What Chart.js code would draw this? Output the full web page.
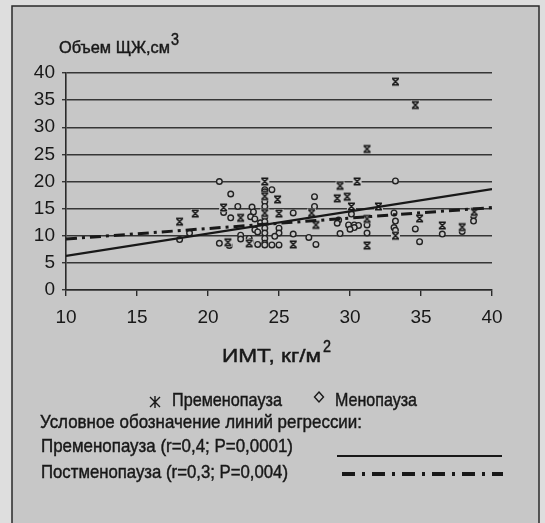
<!DOCTYPE html>
<html>
<head>
<meta charset="utf-8">
<script src="https://cdn.jsdelivr.net/npm/chart.js@4.4.0/dist/chart.umd.min.js"></script>
<style>
  html, body { margin: 0; padding: 0; background: #dcdcdc; }
  canvas { display: block; }
</style>
</head>
<body>
<canvas id="chart" width="545" height="523"></canvas>
<script>
const FONT = "'Liberation Sans', Arial, sans-serif";
const BG = '#c7c7c7';
const INK = '#181818';

// Пременопауза (звёздочки)
const preX = [18.0, 19.1, 21.1, 22.3, 21.4, 22.9, 24.0, 24.0, 24.0, 24.9, 25.0, 26.0,
              29.3, 29.8, 29.1, 30.5, 31.2, 33.2, 34.6, 27.3, 27.6, 30.1, 31.2, 31.2,
              32.0, 33.2, 34.9, 36.5, 37.9, 38.75];
const preY = [12.6, 14.1, 15.2, 13.3, 8.8, 8.6, 20.0, 17.3, 14.2, 16.7, 14.1, 8.4,
              19.2, 17.2, 16.9, 20.0, 26.0, 38.4, 34.1, 14.2, 12.0, 15.4, 13.1, 8.2,
              15.4, 10.0, 13.2, 11.9, 11.6, 14.4];

// Менопауза (ромбы)
const menoX = [18.0, 18.7, 18.0, 19.1, 20.8, 21.6, 21.1, 22.1, 21.6, 23.1, 23.2, 23.0,
               23.3, 20.8, 21.5, 22.3, 22.3, 22.9, 23.0, 23.3, 23.7, 23.5, 23.5,
               24.0, 24.0, 24.0, 24.0, 24.0, 24.0, 24.0, 24.0, 24.0, 24.0, 24.0, 24.0, 24.0,
               24.5, 24.5, 25.0, 25.0, 25.0, 24.7, 25.0, 26.0, 26.0, 27.1, 27.6, 27.5, 27.5,
               27.3, 29.1, 29.2, 29.1, 29.3, 30.1, 30.1, 29.9, 30.3, 30.6, 30.3, 30.0,
               31.2, 31.2, 32.0, 33.2, 33.1, 33.2, 33.1, 33.2, 34.9, 34.6, 34.9, 36.5,
               37.9, 38.7, 38.7];
const menoY = [9.3, 10.5, 12.6, 14.1, 20.0, 17.7, 14.3, 15.4, 13.3, 15.3, 14.4, 13.5,
               13.1, 8.6, 8.2, 10.1, 9.4, 9.5, 8.9, 11.1, 12.4, 10.7, 8.4,
               18.5, 18.1, 17.7, 16.3, 15.4, 14.4, 13.5, 12.6, 11.4, 10.5, 9.5, 8.6, 8.3,
               18.5, 8.3, 11.4, 10.5, 8.3, 9.9, 14.1, 14.2, 10.3, 9.7, 8.4, 17.2, 15.4,
               14.2, 16.9, 12.9, 12.3, 10.4, 14.0, 15.4, 12.0, 12.0, 11.9, 11.5, 11.2,
               12.0, 10.5, 15.4, 20.1, 14.2, 12.7, 11.5, 11.0, 13.2, 11.25, 8.9, 10.3,
               10.8, 13.7, 12.7];

// линии регрессии
const regX = [10, 40];
const preRegY = [6.3, 18.6];
const postRegY = [9.4, 15.2];

const toPoints = (xs, ys) => xs.map((x, i) => ({ x: x, y: ys[i] }));

function starMarker() {
    const c = document.createElement('canvas');
    c.width = 11; c.height = 11;
    const g = c.getContext('2d');
    g.fillStyle = BG;
    g.fillRect(1, 1, 9, 9);
    g.strokeStyle = INK;
    g.lineWidth = 1.5;
    g.beginPath();
    g.moveTo(2.5, 2.5); g.lineTo(8.5, 8.5);
    g.moveTo(8.5, 2.5); g.lineTo(2.5, 8.5);
    g.moveTo(2, 2.2); g.lineTo(9, 2.2);
    g.moveTo(2, 8.8); g.lineTo(9, 8.8);
    g.stroke();
    return c;
}

// узкий шрифт: обычный Liberation Sans, сжатый по ширине
function fitText(ctx, text, x, y, size, width) {
    ctx.font = size + 'px ' + FONT;
    const w = ctx.measureText(text).width;
    ctx.save();
    ctx.translate(x, y);
    ctx.scale(width / w, 1);
    ctx.fillText(text, 0, 0);
    ctx.lineWidth = 0.45;
    ctx.strokeText(text, 0, 0);
    ctx.restore();
}

const framePlugin = {
    id: 'frame',
    beforeDraw(chart) {
        const ctx = chart.ctx;
        ctx.save();
        ctx.fillStyle = '#dedede';
        ctx.fillRect(0, 0, chart.width, chart.height);
        ctx.fillStyle = BG;
        ctx.fillRect(12, 6, 527, 530);
        ctx.strokeStyle = '#2a2a2a';
        ctx.lineWidth = 1.5;
        ctx.strokeRect(12, 6, 527, 530);
        ctx.restore();
    }
};

const textPlugin = {
    id: 'texts',
    afterDraw(chart) {
        const ctx = chart.ctx;
        ctx.save();
        ctx.fillStyle = INK;
        ctx.strokeStyle = INK;
        ctx.textBaseline = 'alphabetic';
        ctx.textAlign = 'left';

        fitText(ctx, 'Объем ЩЖ,см', 59, 53, 17, 111);
        fitText(ctx, '3', 171, 45, 16, 8);
        fitText(ctx, 'ИМТ, кг/м', 222, 362, 19, 99);
        fitText(ctx, '2', 323, 352, 16, 8);

        // легенда маркеров
        ctx.lineWidth = 1.4;
        ctx.beginPath();
        ctx.moveTo(150, 397); ctx.lineTo(160, 407);
        ctx.moveTo(160, 397); ctx.lineTo(150, 407);
        ctx.moveTo(155, 396); ctx.lineTo(155, 408);
        ctx.stroke();
        ctx.beginPath();
        ctx.moveTo(319, 392); ctx.lineTo(323.5, 397);
        ctx.lineTo(319, 402); ctx.lineTo(314.5, 397);
        ctx.closePath();
        ctx.stroke();

        fitText(ctx, 'Пременопауза', 172, 406, 19, 110);
        fitText(ctx, 'Менопауза', 335, 406, 19, 82);
        fitText(ctx, 'Условное обозначение линий регрессии:', 40, 428, 19, 322);
        fitText(ctx, 'Пременопауза (r=0,4; P=0,0001)', 41, 452, 19, 252);
        fitText(ctx, 'Постменопауза (r=0,3; P=0,004)', 41, 478, 19, 247);

        ctx.lineWidth = 2;
        ctx.beginPath();
        ctx.moveTo(337, 456); ctx.lineTo(502, 456);
        ctx.stroke();
        ctx.lineWidth = 4;
        ctx.setLineDash([13, 7, 3, 7]);
        ctx.beginPath();
        ctx.moveTo(342, 474); ctx.lineTo(503, 474);
        ctx.stroke();
        ctx.restore();
    }
};

const star = starMarker();

new Chart(document.getElementById('chart').getContext('2d'), {
    type: 'scatter',
    data: {
        datasets: [
            {
                type: 'line',
                label: 'Пременопауза (r=0,4; P=0,0001)',
                data: toPoints(regX, preRegY),
                borderColor: INK,
                borderWidth: 2.2,
                pointRadius: 0,
                fill: false,
                order: 0
            },
            {
                type: 'line',
                label: 'Постменопауза (r=0,3; P=0,004)',
                data: toPoints(regX, postRegY),
                borderColor: INK,
                borderWidth: 3,
                borderDash: [11, 5, 3, 5],
                pointRadius: 0,
                fill: false,
                order: 1
            },
            {
                label: 'Пременопауза',
                data: toPoints(preX, preY),
                pointStyle: star,
                order: 2
            },
            {
                label: 'Менопауза',
                data: toPoints(menoX, menoY),
                pointStyle: 'circle',
                pointRadius: 2.8,
                borderWidth: 1.4,
                borderColor: '#222',
                backgroundColor: BG,
                order: 3
            }
        ]
    },
    options: {
        responsive: false,
        animation: false,
        layout: { padding: { left: 0, top: 73, right: 53, bottom: 0 } },
        plugins: {
            legend: { display: false },
            tooltip: { enabled: false }
        },
        scales: {
            x: {
                type: 'linear',
                min: 10,
                max: 40,
                ticks: { stepSize: 5, color: INK, padding: 10, font: { family: FONT, size: 19 } },
                grid: { drawOnChartArea: false, drawTicks: true, tickLength: 6, color: '#2a2a2a', lineWidth: 1.4 },
                border: { display: true, color: '#2a2a2a', width: 1.6 },
                afterFit(scale) { scale.height = 233; }
            },
            y: {
                min: 0,
                max: 40,
                ticks: { stepSize: 5, color: INK, padding: 7, font: { family: FONT, size: 19 } },
                grid: { color: '#363636', lineWidth: 1.4, tickLength: 4 },
                border: { display: true, color: '#2a2a2a', width: 1.6 },
                afterFit(scale) { scale.width = 66; }
            }
        }
    },
    plugins: [framePlugin, textPlugin]
});
</script>
</body>
</html>
